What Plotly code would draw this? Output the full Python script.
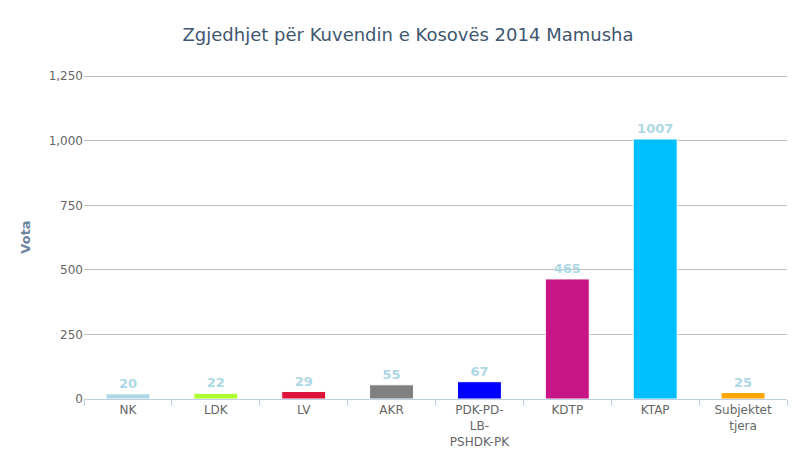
import plotly.graph_objects as go

categories = ["NK", "LDK", "LV", "AKR", "PDK-PD-<br>LB-<br>PSHDK-PK", "KDTP", "KTAP", "Subjektet<br>tjera"]
votes = [20, 22, 29, 55, 67, 465, 1007, 25]
colors = ["#ADD8E6", "#ADFF2F", "#DC143C", "#808080", "#0000FF", "#C71585", "#00BFFF", "#FFA500"]

fig = go.Figure()
fig.add_trace(go.Bar(
    x=categories, y=votes, marker=dict(color=colors, line=dict(color="white", width=1)),
    width=0.5, text=["<b>%d</b>" % v for v in votes], textposition="outside", cliponaxis=False,
    textfont=dict(color="#ADD8E6", size=13, family="DejaVu Sans"),
))
fig.update_layout(
    width=800, height=464, plot_bgcolor="white", paper_bgcolor="white",
    margin=dict(l=76, r=21, t=67, b=73),
    title=dict(text="Zgjedhjet për Kuvendin e Kosovës 2014 Mamusha", x=0.5, xanchor="center", y=0.955,
               font=dict(size=18, color="#3E576F", family="DejaVu Sans")),
    font=dict(family="DejaVu Sans", color="#666666", size=12),
    showlegend=False, bargap=0.5,
)
fig.update_yaxes(range=[0, 1255], tickvals=[0, 250, 500, 750, 1000, 1250], tickformat=",",
                 gridcolor="#C0C0C0", zeroline=False,
                 title=dict(text="<b>Vota</b>", font=dict(size=13, color="#6D869F")))
fig.update_xaxes(showline=True, linecolor="#C0D0E0", ticks="outside", tickcolor="#C0D0E0",
                 tickson="boundaries", ticklen=6)
fig.write_html("out.html")
